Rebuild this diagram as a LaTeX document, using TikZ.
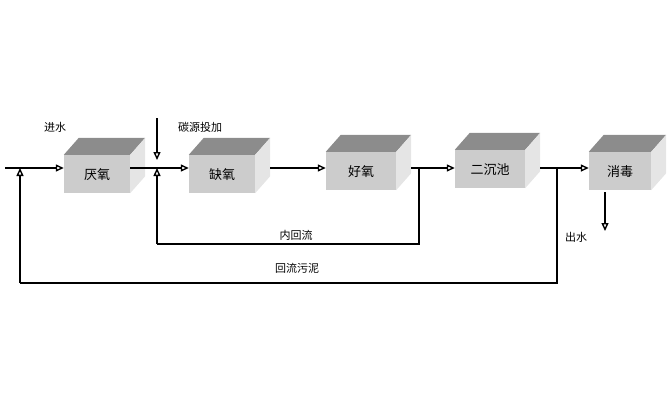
\documentclass[tikz,border=0pt]{standalone}
\usepackage{fontspec}
\usepackage{tikz}
\usetikzlibrary{arrows.meta}
\newfontfamily\cjk{Noto Sans CJK SC}

\tikzset{
  tank/.style={fill=black!20,minimum width=66pt,minimum height=38pt,inner sep=0pt,
    text depth=0pt,font=\cjk\fontsize{13}{13}\selectfont},
  flow/.style={line width=2.4pt,-{Triangle[open,length=8pt,width=7pt,line width=1.4pt]}},
  pipe/.style={line width=2.4pt},
  lab/.style={font=\cjk\fontsize{11}{11}\selectfont}
}

\begin{document}
\begin{tikzpicture}[x=1pt,y=-1pt]
\useasboundingbox (0,0) rectangle (670,418);
\node [tank] (ana) at (97,174) {厌氧};
\node [tank] (ano) at (222,174) {缺氧};
\node [tank,minimum width=70pt] (aer) at (361,171) {好氧};
\node [tank,minimum width=70pt] (sec) at (490,169) {二沉池};
\node [tank,minimum width=62pt] (dis) at (620,171) {消毒};
\foreach \n in {ana,ano,aer,sec,dis}{
  \fill[black!45] (\n.north west) -- ++(15,-17) -- ([shift={(15,-17)}]\n.north east) -- (\n.north east) -- cycle;
  \fill[black!10] (\n.north east) -- ++(15,-17) -- ([shift={(15,-17)}]\n.south east) -- (\n.south east) -- cycle;
}
% joints
\coordinate (in) at (5,168);
\coordinate (j0) at (20,168);
\coordinate (j1) at (157,168);
\coordinate (j2) at (419,168);
\coordinate (j3) at (557,168);
\coordinate (r1) at (419,244);
\coordinate (r2) at (157,244);
\coordinate (s1) at (557,283);
\coordinate (s2) at (20,283);
\coordinate (c0) at (157,118);
\coordinate (c1) at (157,160);
\coordinate (o0) at (605,192);
\coordinate (o1) at (605,231);

\draw [flow] (in) -- (ana.west |- in);
\draw [pipe] (ana.east |- j1) -- (j1);
\draw [flow] (j1) -- (ano.west |- j1);
\draw [flow] ([xshift=15pt]ano.east |- j1) -- (aer.west |- j1);
\draw [pipe] ([xshift=15pt]aer.east |- j2) -- (j2);
\draw [flow] (j2) -- (sec.west |- j2);
\draw [flow] ([xshift=15pt]sec.east |- j3) -- (dis.west |- j3);
\draw [pipe] (j2) -- (r1) -- (r2);
\draw [flow] (r2) -- (j1);
\draw [pipe] (j3) -- (s1) -- (s2);
\draw [flow] (s2) -- (j0);
\draw [flow] (c0) -- (c1);
\draw [flow] (o0) -- (o1);

\node [lab] (inl) at (55,127) {进水};
\node [lab] (carb) at (200,127) {碳源投加};
\node [lab] (inr) at (296,235) {内回流};
\node [lab] (ras) at (297,268) {回流污泥};
\node [lab] (out) at (576,237) {出水};
\end{tikzpicture}
\end{document}
